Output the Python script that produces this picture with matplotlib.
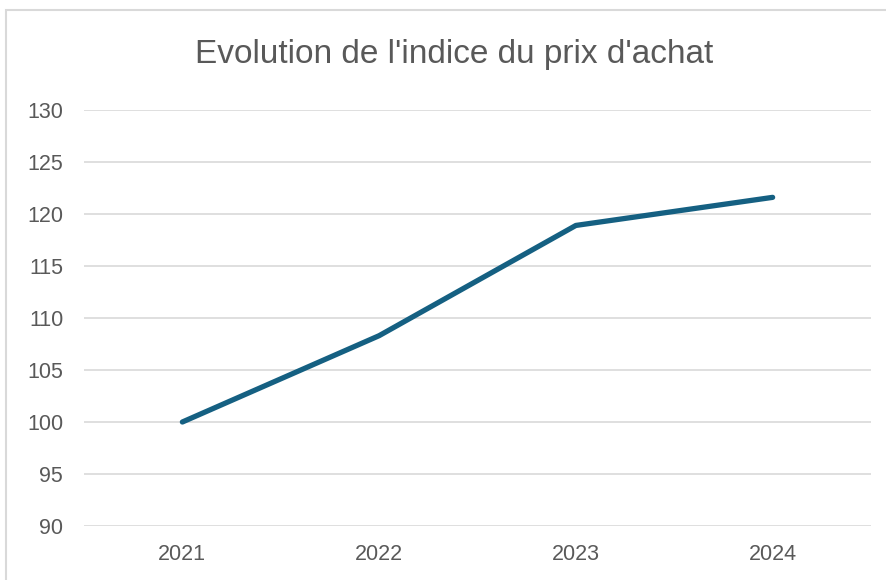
import matplotlib.pyplot as plt
from matplotlib.patches import Rectangle

# Data
years = ["2021", "2022", "2023", "2024"]
indice = [100, 108.3, 118.9, 121.6]
yticks = [90, 95, 100, 105, 110, 115, 120, 125, 130]

fig = plt.figure(figsize=(8.87, 5.80), dpi=100)
ax = fig.add_axes([84 / 887, 1 - 526 / 580, (871 - 84) / 887, (526 - 110) / 580])

# chart border (cut off on right/bottom like the screenshot)
fig.patches.append(Rectangle((6 / 887, -0.05), 1.2, 1 - 10 / 580 + 0.05,
                             transform=fig.transFigure, fill=False,
                             edgecolor="#d9d9d9", linewidth=1.5))

x = range(len(years))
ax.plot(x, indice, color="#156082", linewidth=3.8, solid_capstyle="round",
        solid_joinstyle="round", zorder=3)

ax.set_xlim(-0.5, len(years) - 0.5)
ax.set_ylim(90, 130)
ax.set_yticks(yticks)
ax.set_xticks(list(x))
ax.set_xticklabels(years)
ax.grid(axis="y", color="#d9d9d9", linewidth=1.2)
ax.set_axisbelow(True)
for s in ax.spines.values():
    s.set_visible(False)
ax.tick_params(length=0, labelsize=15.5, labelcolor="#595959")
ax.tick_params(axis="x", pad=13)
ax.tick_params(axis="y", pad=15)
for lab in ax.get_yticklabels() + ax.get_xticklabels():
    lab.set_family(["Liberation Sans", "DejaVu Sans"])

fig.text(454 / 887, 1 - 55 / 580, "Evolution de l'indice du prix d'achat",
         ha="center", va="center", fontsize=24, color="#595959",
         family=["Liberation Sans Narrow", "Liberation Sans", "DejaVu Sans"])

fig.savefig("out.png", dpi=100)
